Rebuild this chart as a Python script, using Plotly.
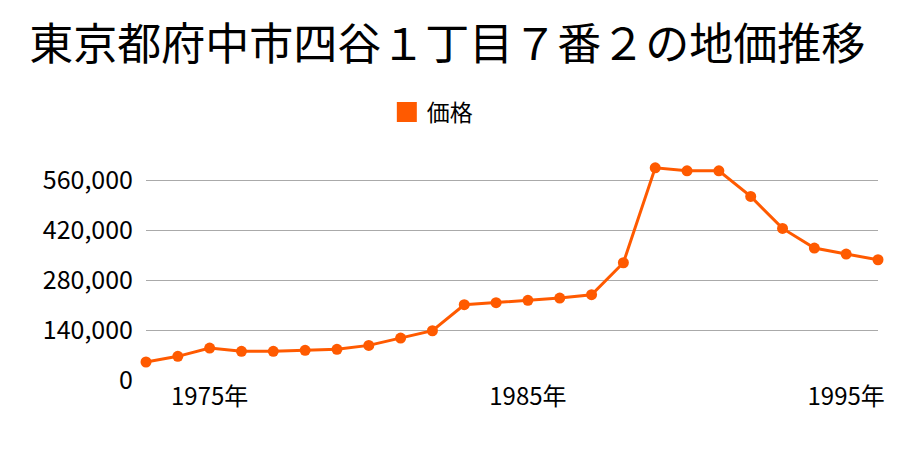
import plotly.graph_objects as go

years = list(range(1973, 1997))
prices = [50400, 66300, 89600, 80300, 80300, 83100, 85900, 97000, 117600, 138000,
          210900, 216500, 223100, 229600, 238900, 328500, 594500, 586100, 586100,
          514300, 424700, 369600, 352800, 336900]
y_ticks = [0, 140000, 280000, 420000, 560000]
y_tick_text = ["0", "140,000", "280,000", "420,000", "560,000"]
x_ticks = [1975, 1985, 1995]
x_tick_text = ["1975年", "1985年", "1995年"]

color = "#ff5a00"
font = "Noto Sans CJK JP"

fig = go.Figure()
fig.add_trace(go.Scatter(
    x=years, y=prices, mode="lines+markers", name="価格",
    line=dict(color=color, width=3), marker=dict(color=color, size=11),
    showlegend=False, cliponaxis=False,
))
fig.add_trace(go.Scatter(
    x=[None], y=[None], mode="markers", name="価格",
    marker=dict(color=color, size=16, symbol="square", line=dict(color=color, width=4)),
    showlegend=True,
))

fig.update_layout(
    width=900, height=450,
    paper_bgcolor="white", plot_bgcolor="white",
    margin=dict(l=146, r=22, t=148, b=70),
    font=dict(family=font, color="#000000"),
    title=dict(text="東京都府中市四谷１丁目７番２の地価推移", x=0.497, xanchor="center",
               y=1 - 45 / 450, yanchor="middle", yref="container",
               font=dict(size=44, family=font, color="#000000")),
    legend=dict(orientation="h", x=0.329, xanchor="left", y=1 + 36 / 232, yanchor="middle",
                font=dict(size=23, family=font), itemsizing="trace"),
    xaxis=dict(range=[1973, 1996], tickvals=x_ticks, ticktext=x_tick_text,
               showgrid=False, zeroline=False, showline=False,
               tickfont=dict(size=24, family=font), ticks=""),
    yaxis=dict(range=[0, 650000], tickvals=y_ticks, ticktext=y_tick_text,
               showgrid=True, gridcolor="#aaaaaa", gridwidth=1, zeroline=False,
               showline=False, tickfont=dict(size=25, family=font), ticks="",
               ticklabelstandoff=12),
)

fig.write_html("out.html")
